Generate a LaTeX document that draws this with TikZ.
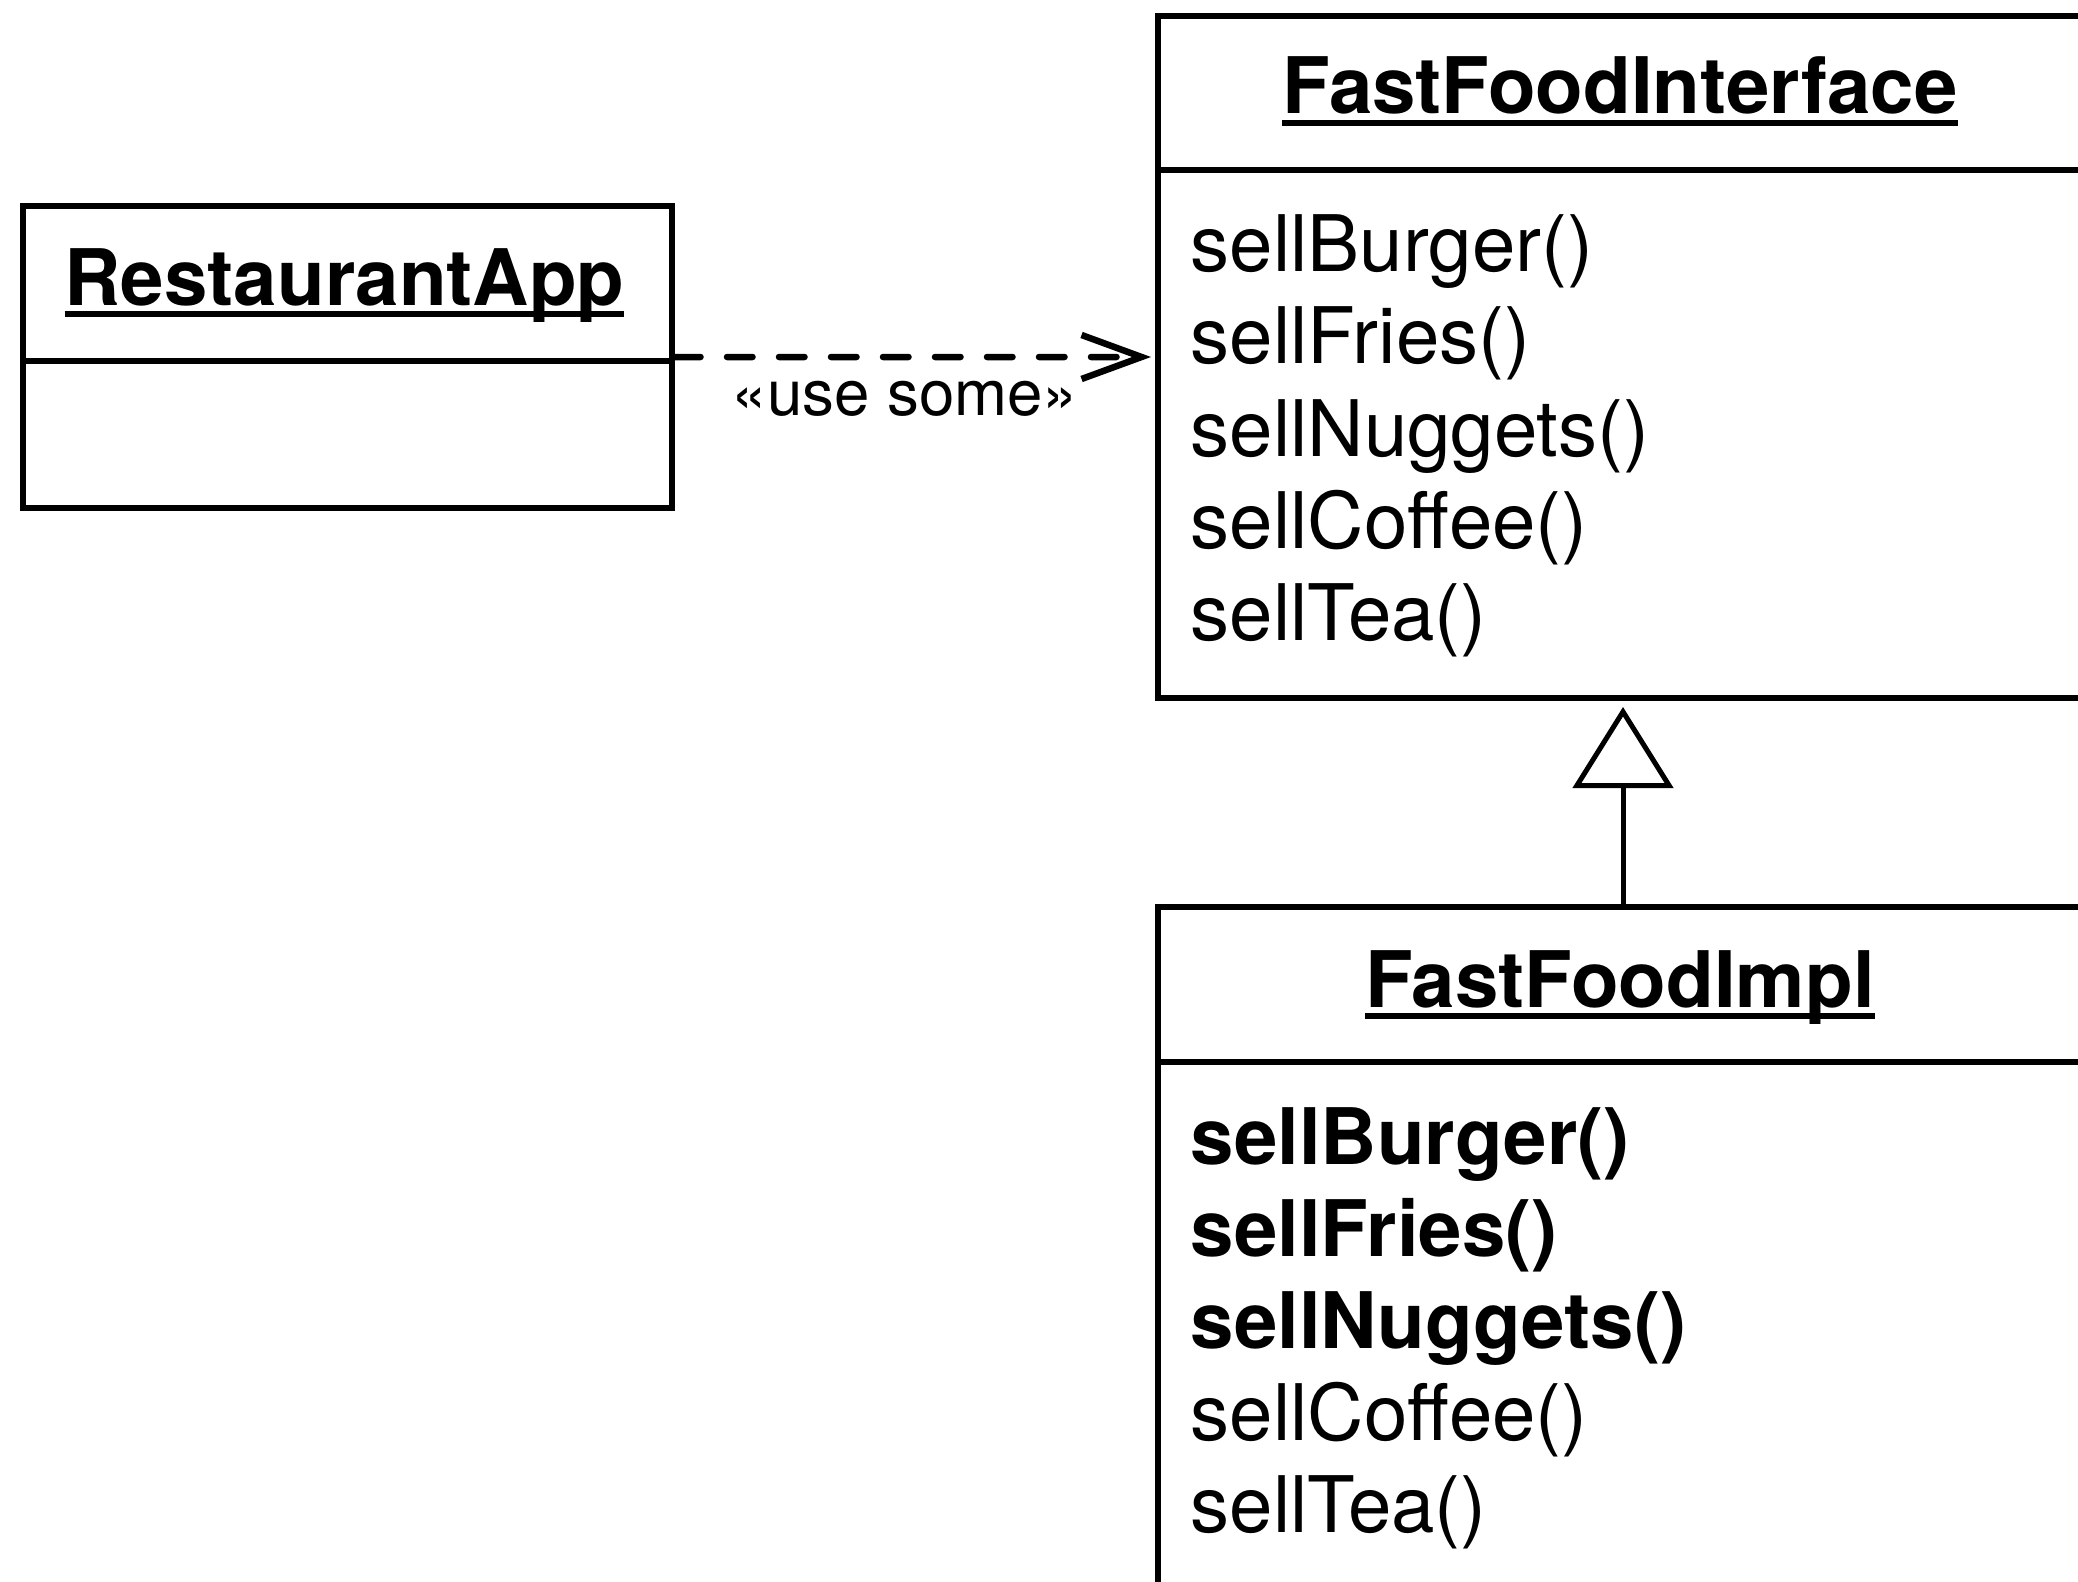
\documentclass[tikz,border=0pt]{standalone}
\usepackage{fontspec}
\setmainfont{TeX Gyre Heros}
\usetikzlibrary{arrows.meta}

% underlined class name, rule drawn just under the baseline
\newcommand{\uname}[1]{\setbox0=\hbox{#1}\rlap{\rule[-0.155em]{\wd0}{0.075em}}\box0}

\tikzset{
	classbox/.style={draw=black, line width=0.06cm, inner sep=0pt, anchor=north west},
	titletext/.style={font=\fontsize{22.2}{26}\selectfont\bfseries, anchor=base, inner sep=0pt},
	methodtext/.style={font=\fontsize{22.2}{26}\selectfont, anchor=base west, inner sep=0pt},
	uselabel/.style={font=\fontsize{18.1}{22}\selectfont, anchor=base, inner sep=0pt},
	uses/.style={line width=0.065cm, dash pattern=on 0.255cm off 0.265cm, line cap=round,
		-{Straight Barb[length=0.6cm, width=0.44cm]}, shorten >=0.04cm},
	realize/.style={line width=0.05cm, -{Triangle[open, length=0.81cm, width=1.0cm]}, shorten >=0.06cm},
}

\begin{document}
\begin{tikzpicture}

	%Background
	\useasboundingbox[fill=white] (0,0) rectangle (20.78,-15.82);

	%RestaurantApp
	\node[classbox, minimum width=6.49cm, minimum height=3.02cm] (app) at (0.20,-2.03) {};
	\draw[line width=0.06cm] (app.west |- 0,-3.61) -- (app.east |- 0,-3.61);
	\node[titletext] (appname) at (3.445,-3.05) {\uname{RestaurantApp}};

	%FastFoodInterface
	\node[classbox, minimum width=9.30cm, minimum height=6.82cm] (iface) at (11.55,-0.13) {};
	\draw[line width=0.06cm] (iface.west |- 0,-1.70) -- (iface.east |- 0,-1.70);
	\node[titletext] (ifacename) at (16.20,-1.14) {\uname{FastFoodInterface}};
	\foreach \m [count=\i] in {sellBurger(),sellFries(),sellNuggets(),sellCoffee(),sellTea()}
		\node[methodtext] (ifm\i) at (11.90,{-2.72-0.92*(\i-1)}) {\m};

	%FastFoodImpl
	\node[classbox, minimum width=9.30cm, minimum height=6.86cm] (impl) at (11.55,-9.04) {};
	\draw[line width=0.06cm] (impl.west |- 0,-10.62) -- (impl.east |- 0,-10.62);
	\node[titletext] (implname) at (16.20,-10.07) {\uname{FastFoodImpl}};
	\foreach \m [count=\i] in {sellBurger(),sellFries(),sellNuggets(),sellCoffee(),sellTea()}
		\node[methodtext] (imm\i) at (11.90,{-11.64-0.92*(\i-1)}) {\ifnum\i<4\bfseries\fi\m};

	%Dependency
	\draw[uses] (app.east) -- (iface.west);
	\node[uselabel] (uselbl) at (9.05,-4.15) {«use some»};

	%Realization
	\draw[realize] (impl.north) -- (iface.south);

\end{tikzpicture}
\end{document}
